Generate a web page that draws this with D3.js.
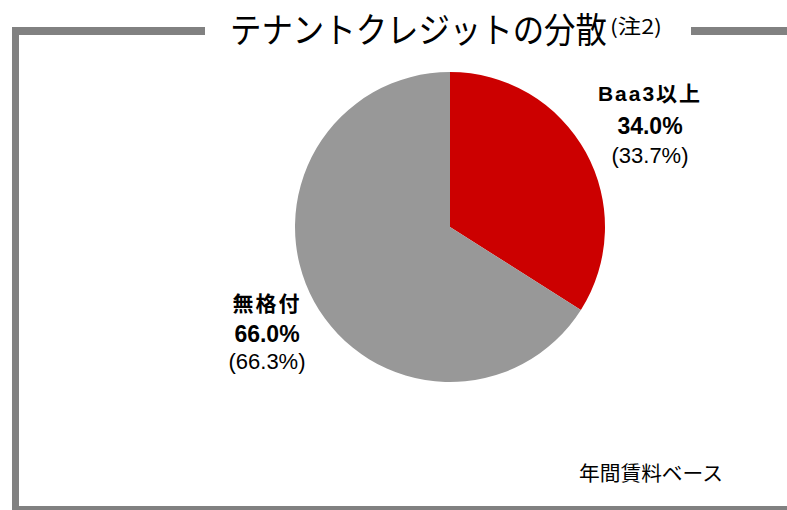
<!DOCTYPE html>
<html lang="ja">
<head>
<meta charset="utf-8">
<script src="https://cdn.jsdelivr.net/npm/d3@7"></script>
<style>
  html, body { margin: 0; padding: 0; background: #fff; }
  svg { display: block; }
</style>
</head>
<body>
<div id="chart"></div>
<script>
// Tenant credit breakdown (annual rent basis)
const categories = ["Baa3以上", "無格付"];
const shares = [34.0, 66.0];        // current share, %
const priorShares = [33.7, 66.3];   // share shown in parentheses, %
const sliceColors = ["#cc0000", "#989898"];

const width = 787, height = 510;
const svg = d3.select("#chart").append("svg")
  .attr("width", width).attr("height", height);

const frameColor = "#818181";
const jp = "'Noto Sans CJK JP', sans-serif";
const latin = "'Liberation Sans', Arial, 'Noto Sans CJK JP', sans-serif";

// Frame: open top edge with a gap for the title
const frame = svg.append("g").attr("fill", frameColor);
frame.append("rect").attr("x", 12).attr("y", 27).attr("width", 193).attr("height", 8);
frame.append("rect").attr("x", 691).attr("y", 27).attr("width", 96).attr("height", 8);
frame.append("rect").attr("x", 12).attr("y", 27).attr("width", 7).attr("height", 483);
frame.append("rect").attr("x", 12).attr("y", 506).attr("width", 775).attr("height", 4);

// Fit a text horizontally into a given width by scaling its group
function fittedText(x, y, str, size, targetWidth) {
  const g = svg.append("g");
  const t = g.append("text")
    .attr("x", 0).attr("y", 0)
    .attr("dominant-baseline", "central")
    .attr("font-family", jp).attr("font-size", size).attr("fill", "#000")
    .text(str);
  const w = t.node().getComputedTextLength() || targetWidth;
  g.attr("transform", `translate(${x},${y}) scale(${targetWidth / w},1)`);
  return g;
}

// Title with note marker
fittedText(230, 28, "テナントクレジットの分散", 35, 377);
fittedText(610, 25, "(注2)", 20, 52);

// Pie
const cx = 450, cy = 227, r = 155;
const pie = d3.pie().sort(null).value(d => d.share)
  .startAngle(0).endAngle(2 * Math.PI);
const data = categories.map((c, i) => ({ name: c, share: shares[i], prior: priorShares[i], color: sliceColors[i] }));
const arcs = pie(data);
const arc = d3.arc().innerRadius(0).outerRadius(r);

svg.append("g").attr("transform", `translate(${cx},${cy})`)
  .selectAll("path").data(arcs).join("path")
  .attr("d", arc)
  .attr("fill", d => d.data.color);

// Slice labels
const labelPos = [
  { x: 650, y: [101, 134, 163] },
  { x: 267, y: [311, 342, 369] }
];
const fmt = d3.format(".1f");
arcs.forEach((a, i) => {
  const p = labelPos[i];
  const g = svg.append("g").attr("text-anchor", "middle").attr("fill", "#000");
  g.append("text").attr("x", p.x).attr("y", p.y[0])
    .attr("font-family", latin).attr("font-weight", "bold").attr("font-size", 21)
    .attr("letter-spacing", 2)
    .text(a.data.name);
  g.append("text").attr("x", p.x).attr("y", p.y[1])
    .attr("font-family", latin).attr("font-weight", "bold").attr("font-size", 23)
    .text(fmt(a.data.share) + "%");
  g.append("text").attr("x", p.x).attr("y", p.y[2])
    .attr("font-family", latin).attr("font-size", 22)
    .text("(" + fmt(a.data.prior) + "%)");
});

// Basis note
fittedText(579, 472, "年間賃料ベース", 20, 144);
</script>
</body>
</html>
